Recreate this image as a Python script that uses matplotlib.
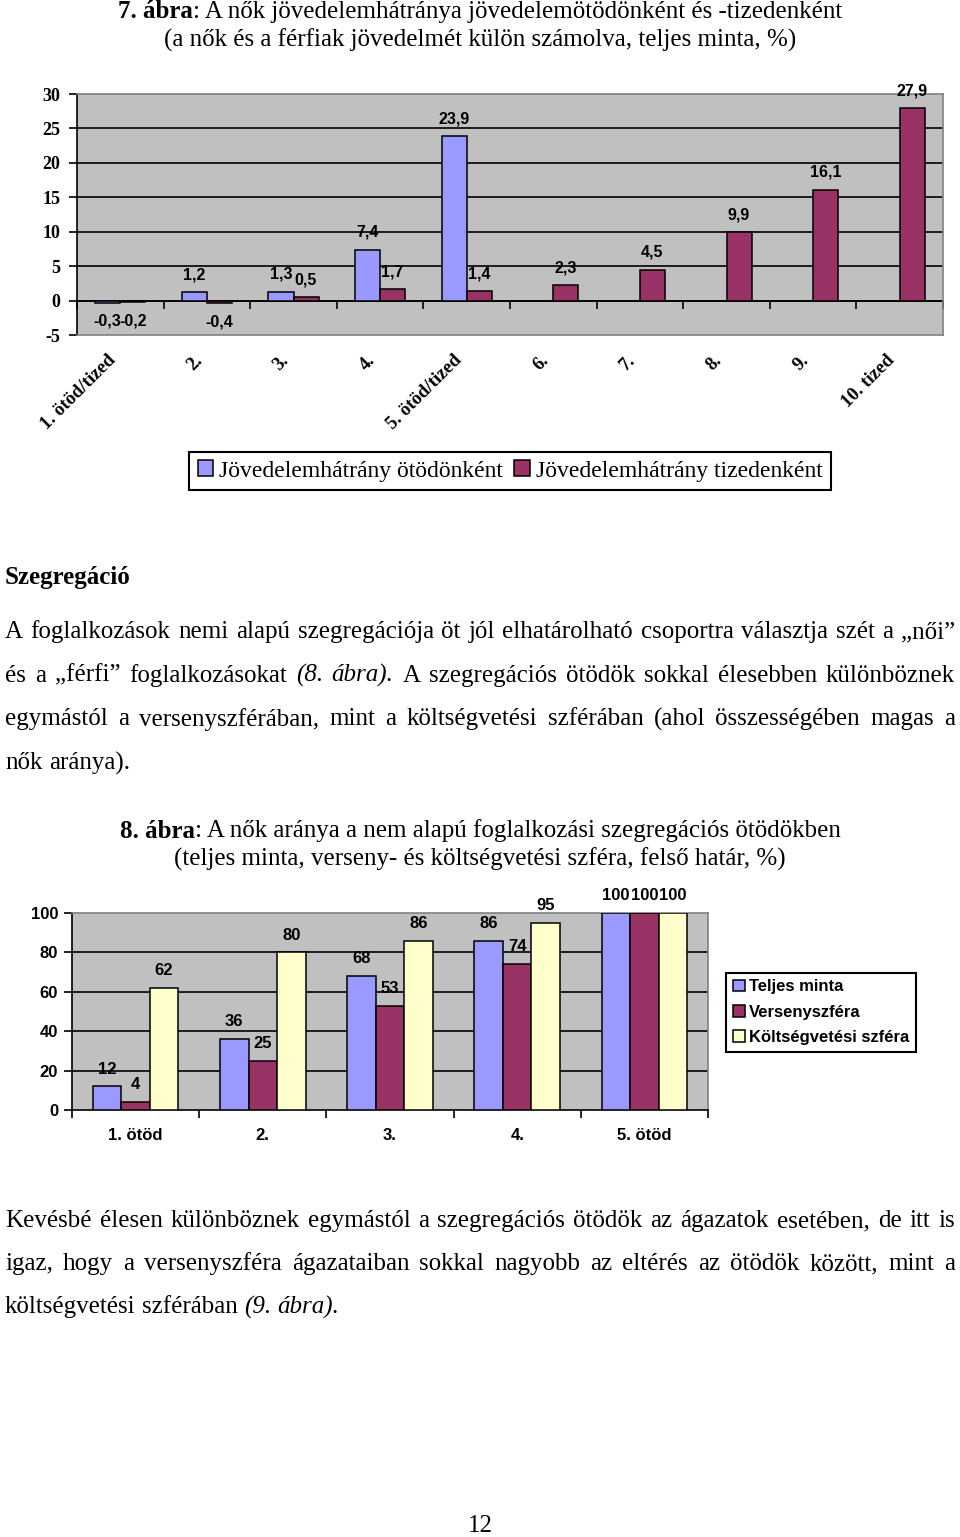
import numpy as np
import matplotlib.pyplot as plt
from matplotlib.patches import Patch

# ── Adatok ─────────────────────────────────────────────────────────────────────
kat7 = ["1. ötöd/tized", "2.", "3.", "4.", "5. ötöd/tized",
        "6.", "7.", "8.", "9.", "10. tized"]
otod7 = [-0.3, 1.2, 1.3, 7.4, 23.9]
tized7 = [-0.2, -0.4, 0.5, 1.7, 1.4, 2.3, 4.5, 9.9, 16.1, 27.9]
yticks7 = [-5, 0, 5, 10, 15, 20, 25, 30]
leg7 = ["Jövedelemhátrány ötödönként", "Jövedelemhátrány tizedenként"]

kat8 = ["1. ötöd", "2.", "3.", "4.", "5. ötöd"]
teljes8 = [12, 36, 68, 86, 100]
verseny8 = [4, 25, 53, 74, 100]
koltseg8 = [62, 80, 86, 95, 100]
yticks8 = [0, 20, 40, 60, 80, 100]
leg8 = ["Teljes minta", "Versenyszféra", "Költségvetési szféra"]

# ── Szöveg ─────────────────────────────────────────────────────────────────────
cim7 = [[("7. ábra", "bold"), (": A nők jövedelemhátránya jövedelemötödönként és -tizedenként", "normal")],
        [("(a nők és a férfiak jövedelmét külön számolva, teljes minta, %)", "normal")]]
cim8 = [[("8. ábra", "bold"), (": A nők aránya a nem alapú foglalkozási szegregációs ötödökben", "normal")],
        [("(teljes minta, verseny- és költségvetési szféra, felső határ, %)", "normal")]]
bekezdes1 = [
    "A foglalkozások nemi alapú szegregációja öt jól elhatárolható csoportra választja szét a „női”",
    "és a „férfi” foglalkozásokat (8. ábra). A szegregációs ötödök sokkal élesebben különböznek",
    "egymástól a versenyszférában, mint a költségvetési szférában (ahol összességében magas a",
    "nők aránya).",
]
bekezdes2 = [
    "Kevésbé élesen különböznek egymástól a szegregációs ötödök az ágazatok esetében, de itt is",
    "igaz, hogy a versenyszféra ágazataiban sokkal nagyobb az eltérés az ötödök között, mint a",
    "költségvetési szférában (9. ábra).",
]
DOLT = {"(8.", "(9.", "ábra)."}

W, H = 960, 1537
SERIF = "Liberation Serif"
SANS = "Liberation Sans"
KEK, BORDO, SARGA = "#9999FF", "#993366", "#FFFFCC"
SZURKE, KERET = "#C0C0C0", "#808080"
BODY = 18

fig = plt.figure(figsize=(W / 100, H / 100), dpi=100)
rend = fig.canvas.get_renderer()


def px_axes(left, top, right, bottom):
    return fig.add_axes([left / W, 1 - bottom / H, (right - left) / W, (bottom - top) / H])


def szoveg(s, y, **kw):
    kw.setdefault("fontfamily", SERIF)
    kw.setdefault("fontsize", BODY)
    return fig.text(0, 1 - y / H, s, va="center", **kw)


def kozepre(darabok, y, cx=480):
    objs = [szoveg(s, y, fontweight=w) for s, w in darabok]
    sz = [o.get_window_extent(rend).width for o in objs]
    x = cx - sum(sz) / 2
    for o, w in zip(objs, sz):
        o.set_x(x / W)
        x += w


def sorkizart(sorok, y0, dy, x0=5, x1=955):
    for i, sor in enumerate(sorok):
        y = y0 + i * dy
        szavak = sor.split(" ")
        objs = [szoveg(s, y, fontstyle="italic" if s in DOLT else "normal") for s in szavak]
        sz = [o.get_window_extent(rend).width for o in objs]
        utolso = i == len(sorok) - 1
        koz = 0.25 * BODY * 100 / 72 if utolso else (x1 - x0 - sum(sz)) / (len(sz) - 1)
        x = x0
        for o, w in zip(objs, sz):
            o.set_x(x / W)
            x += w + koz


def cimkek(ax, bars, vals, fmt, fs):
    for b, v in zip(bars, vals):
        ax.annotate(fmt(v), (b.get_x() + b.get_width() / 2, v),
                    xytext=(0, 7 if v >= 0 else -8), textcoords="offset points",
                    ha="center", va="bottom" if v >= 0 else "top",
                    fontfamily=SANS, fontweight="bold", fontsize=fs,
                    zorder=6, annotation_clip=False)


def keret(ax, fekete):
    for k, sp in ax.spines.items():
        sp.set_linewidth(1.2)
        sp.set_color("black" if k in fekete else KERET)


# ── 7. ábra ────────────────────────────────────────────────────────────────────
kozepre(cim7[0], 12)
kozepre(cim7[1], 40)

ax1 = px_axes(77, 94, 943, 335)
ax1.set_facecolor(SZURKE)
x7 = np.arange(len(kat7))
bw = 0.29
b_o = ax1.bar(x7[:len(otod7)] - bw / 2, otod7, bw, color=KEK, edgecolor="black", lw=1.1, zorder=3)
b_t = ax1.bar(x7 + bw / 2, tized7, bw, color=BORDO, edgecolor="black", lw=1.1, zorder=3)
for y in yticks7[1:-1]:
    ax1.axhline(y, color="black", lw=1.2, zorder=1)
ax1.set_xlim(-0.5, len(kat7) - 0.5)
ax1.set_ylim(yticks7[0], yticks7[-1])
ax1.set_yticks(yticks7, [str(v) for v in yticks7], fontfamily=SERIF, fontweight="bold", fontsize=13)
ax1.tick_params(axis="y", length=6, width=1.2, pad=6)
ax1.set_xticks([])
for xi, lab in zip(x7, kat7):
    ax1.annotate(lab, (xi, 0), xycoords=("data", "axes fraction"),
                 xytext=(-9.5, -12), textcoords="offset points",
                 rotation=45, ha="right", va="top", rotation_mode="anchor",
                 fontfamily=SERIF, fontweight="bold", fontsize=13.5,
                 annotation_clip=False)
keret(ax1, ["left"])
null = ax1.secondary_xaxis((0 - yticks7[0]) / (yticks7[-1] - yticks7[0]))
null.set_xticks(np.arange(len(kat7) + 1) - 0.5)
null.tick_params(labelbottom=False, length=6, width=1.2)
null.spines["bottom"].set_linewidth(1.2)

fmt7 = lambda v: f"{v:.1f}".replace(".", ",")
cimkek(ax1, b_o, otod7, fmt7, 11.5)
cimkek(ax1, b_t, tized7, fmt7, 11.5)

l1 = fig.legend(handles=[Patch(facecolor=KEK, edgecolor="black", lw=1.1, label=leg7[0]),
                         Patch(facecolor=BORDO, edgecolor="black", lw=1.1, label=leg7[1])],
                loc="center", bbox_to_anchor=(510 / W, 1 - 471 / H), ncol=2,
                fancybox=False, edgecolor="black", framealpha=1,
                prop={"family": SERIF, "size": 17},
                handlelength=0.65, handleheight=0.65, handletextpad=0.25,
                columnspacing=0.5, borderpad=0.35)
l1.get_frame().set_linewidth(1.5)

# ── Szöveg ─────────────────────────────────────────────────────────────────────
szoveg("Szegregáció", 578, fontweight="bold").set_x(5 / W)
sorkizart(bekezdes1, 632, 43.7)

# ── 8. ábra ────────────────────────────────────────────────────────────────────
kozepre(cim8[0], 831)
kozepre(cim8[1], 859)

ax2 = px_axes(72, 913, 708, 1110)
ax2.set_facecolor(SZURKE)
x8 = np.arange(len(kat8))
bw2 = 0.224
sorozatok = [(teljes8, KEK), (verseny8, BORDO), (koltseg8, SARGA)]
for i, (vals, c) in enumerate(sorozatok):
    bars = ax2.bar(x8 + (i - 1) * bw2, vals, bw2, color=c, edgecolor="black", lw=1.1, zorder=3)
    cimkek(ax2, bars, vals, lambda v: str(v), 12)
for y in yticks8[1:-1]:
    ax2.axhline(y, color="black", lw=1.2, zorder=1)
ax2.set_xlim(-0.5, len(kat8) - 0.5)
ax2.set_ylim(yticks8[0], yticks8[-1])
ax2.set_yticks(yticks8, [str(v) for v in yticks8], fontfamily=SANS, fontweight="bold", fontsize=12)
ax2.tick_params(axis="y", length=6, width=1.2, pad=4)
ax2.set_xticks(x8, kat8, fontfamily=SANS, fontweight="bold", fontsize=12)
ax2.set_xticks(np.arange(len(kat8) + 1) - 0.5, minor=True)
ax2.tick_params(axis="x", which="major", length=0, pad=13)
ax2.tick_params(axis="x", which="minor", length=6, width=1.2)
keret(ax2, ["left", "bottom"])

l2 = fig.legend(handles=[Patch(facecolor=c, edgecolor="black", lw=1.1, label=t)
                         for (v, c), t in zip(sorozatok, leg8)],
                loc="center", bbox_to_anchor=(821 / W, 1 - 1012 / H),
                fancybox=False, edgecolor="black", framealpha=1,
                prop={"family": SANS, "weight": "bold", "size": 12},
                handlelength=0.7, handleheight=0.7, handletextpad=0.25,
                labelspacing=0.62, borderpad=0.4)
l2.get_frame().set_linewidth(1.5)

sorkizart(bekezdes2, 1221, 43)
kozepre([("12", "normal")], 1526)

fig.savefig("out.png", dpi=100)
